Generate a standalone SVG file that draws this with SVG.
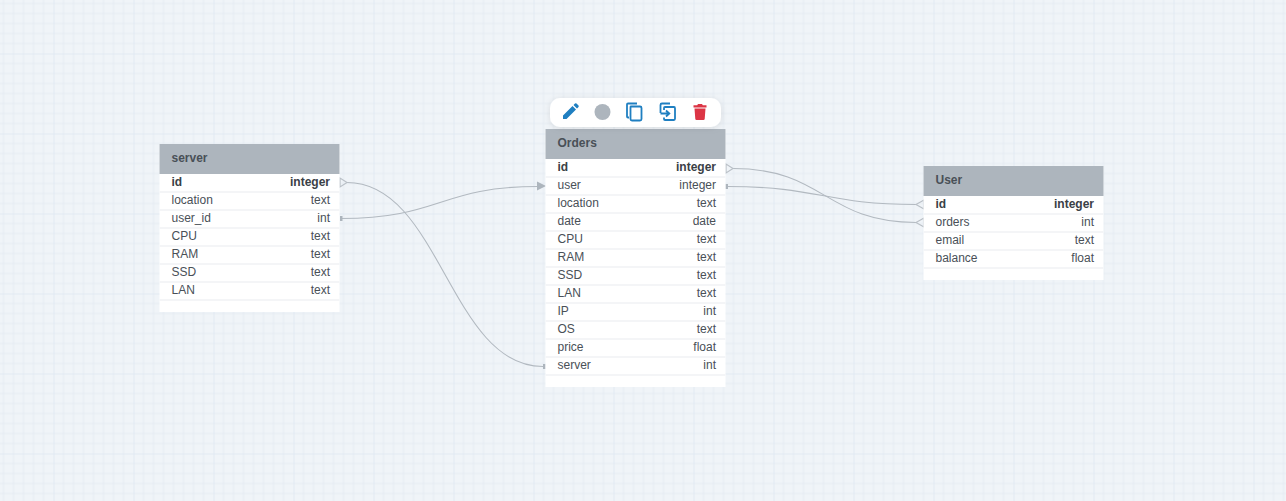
<svg xmlns="http://www.w3.org/2000/svg" width="1286" height="501" viewBox="0 0 1286 501">
<style>
text{font-family:"Liberation Sans",Arial,sans-serif;font-size:12px;fill:#495057}
.h{font-weight:700}
.b{font-weight:700;fill:#3a4046}
.r{text-anchor:end}
.card{fill:#fff}
.head{fill:#adb5bd}
.sep{stroke:#f4f5f7;stroke-width:2;fill:none}
.conn{fill:none;stroke:#b2b9c0;stroke-width:1.100}
.end{fill:none;stroke:#bac0c7;stroke-width:1.200}
.dot{fill:#adb5bd}
</style>
<defs>
<pattern id="g" width="80" height="80" patternUnits="userSpaceOnUse" patternTransform="translate(53.5 53.5)">
<path d="M10 0V80M20 0V80M30 0V80M40 0V80M50 0V80M60 0V80M70 0V80M0 10H80M0 20H80M0 30H80M0 40H80M0 50H80M0 60H80M0 70H80" stroke="#e5ebf2" stroke-width="1" fill="none"/>
<path d="M0 0V80M0 0H80" stroke="#d6e1ee" stroke-width="1" fill="none"/>
</pattern>
<filter id="s" x="-10%" y="-30%" width="120%" height="170%"><feDropShadow dx="0" dy="1" stdDeviation="3" flood-color="#000" flood-opacity=".1"/></filter>
</defs>
<rect width="1286" height="501" fill="#f0f4f8"/>
<rect width="1286" height="501" fill="url(#g)"/>
<g id="connectors">
<path class="conn" d="M347 182.500C440 182.500 450 366.500 543 366.500"/>
<path class="conn" d="M341 218.500C440 218.500 440 186.500 538 186.500"/>
<path class="conn" d="M733 168.500C825 168.500 825 222.500 916 222.500"/>
<path class="conn" d="M727 186.500C820 186.500 825 204.500 916 204.500"/>
<path class="end" d="M347 182.500L340 178V187ZM733 168.500L726 164V173ZM916 204.500L924 200V209ZM916 222.500L924 218V227Z"/>
<path class="dot" d="M537 181.500L546 186L537 190.500Z"/>
<rect class="dot" x="340" y="216" width="2.500" height="5"/>
<rect class="dot" x="725.500" y="184" width="2.500" height="5"/>
<rect class="dot" x="543" y="364" width="2.500" height="5"/>
</g>
<g id="server">
<rect class="card" x="159.500" y="144" width="180" height="168"/>
<rect class="head" x="159.500" y="144" width="180" height="30"/>
<path class="sep" d="M159.500 192H339.500M159.500 210H339.500M159.500 228H339.500M159.500 246H339.500M159.500 264H339.500M159.500 282H339.500M159.500 300H339.500"/>
<text class="h" x="171.500" y="162">server</text>
<text class="b" x="171.500" y="186">id</text><text class="b r" x="330" y="186">integer</text>
<text x="171.500" y="204">location</text><text class="r" x="330" y="204">text</text>
<text x="171.500" y="222">user_id</text><text class="r" x="330" y="222">int</text>
<text x="171.500" y="240">CPU</text><text class="r" x="330" y="240">text</text>
<text x="171.500" y="258">RAM</text><text class="r" x="330" y="258">text</text>
<text x="171.500" y="276">SSD</text><text class="r" x="330" y="276">text</text>
<text x="171.500" y="294">LAN</text><text class="r" x="330" y="294">text</text>
</g>
<g id="orders">
<rect class="card" x="545.500" y="129" width="180" height="258"/>
<rect class="head" x="545.500" y="129" width="180" height="30"/>
<path class="sep" d="M545.500 177H725.500M545.500 195H725.500M545.500 213H725.500M545.500 231H725.500M545.500 249H725.500M545.500 267H725.500M545.500 285H725.500M545.500 303H725.500M545.500 321H725.500M545.500 339H725.500M545.500 357H725.500M545.500 375H725.500"/>
<text class="h" x="557.500" y="147">Orders</text>
<text class="b" x="557.500" y="171">id</text><text class="b r" x="716" y="171">integer</text>
<text x="557.500" y="189">user</text><text class="r" x="716" y="189">integer</text>
<text x="557.500" y="207">location</text><text class="r" x="716" y="207">text</text>
<text x="557.500" y="225">date</text><text class="r" x="716" y="225">date</text>
<text x="557.500" y="243">CPU</text><text class="r" x="716" y="243">text</text>
<text x="557.500" y="261">RAM</text><text class="r" x="716" y="261">text</text>
<text x="557.500" y="279">SSD</text><text class="r" x="716" y="279">text</text>
<text x="557.500" y="297">LAN</text><text class="r" x="716" y="297">text</text>
<text x="557.500" y="315">IP</text><text class="r" x="716" y="315">int</text>
<text x="557.500" y="333">OS</text><text class="r" x="716" y="333">text</text>
<text x="557.500" y="351">price</text><text class="r" x="716" y="351">float</text>
<text x="557.500" y="369">server</text><text class="r" x="716" y="369">int</text>
</g>
<g id="user">
<rect class="card" x="923.500" y="166" width="180" height="114"/>
<rect class="head" x="923.500" y="166" width="180" height="30"/>
<path class="sep" d="M923.500 214H1103.500M923.500 232H1103.500M923.500 250H1103.500M923.500 268H1103.500"/>
<text class="h" x="935.500" y="184">User</text>
<text class="b" x="935.500" y="208">id</text><text class="b r" x="1094" y="208">integer</text>
<text x="935.500" y="226">orders</text><text class="r" x="1094" y="226">int</text>
<text x="935.500" y="244">email</text><text class="r" x="1094" y="244">text</text>
<text x="935.500" y="262">balance</text><text class="r" x="1094" y="262">float</text>
</g>
<g id="toolbar">
<rect x="550" y="98" width="171" height="29" rx="10" fill="#fff" filter="url(#s)"/>
<path d="M563 119V115.500L572.500 106L576 109.500L566.500 119ZM573.500 105L575 103.500Q575.800 102.900 576.500 103.500L578.500 105.500Q579 106.200 578.500 107L577 108.500Z" fill="#1f7fc1"/>
<circle cx="602.500" cy="112" r="8" fill="#adb5bd"/>
<path d="M629 117.500H628Q627 117.500 627 116.500V104.500Q627 103.500 628 103.500H637M631 106.500H640Q641.500 106.500 641.500 108V119Q641.500 120.500 640 120.500H632Q630.500 120.500 630.500 119V107Q630.500 106.500 631 106.500Z" fill="none" stroke="#1f7fc1" stroke-width="1.800"/>
<path d="M660.500 113V105Q660.500 103.500 662 103.500H670M664 110V108Q664 107 665 107H674Q675 107 675 108.500V118.500Q675 120 674 120H665Q664 120 664 119V117.500M660.500 113.500H669M666 110.500L669.300 113.500L666 116.500" fill="none" stroke="#1f7fc1" stroke-width="1.800"/>
<path d="M693.500 107.500H706.500V105.300H702.800L702 104H698L697.200 105.300H693.500ZM694.500 108.500H705.500L704.700 119Q704.500 120 703.500 120H696.500Q695.500 120 695.300 119Z" fill="#dc3545"/>
</g>
</svg>
